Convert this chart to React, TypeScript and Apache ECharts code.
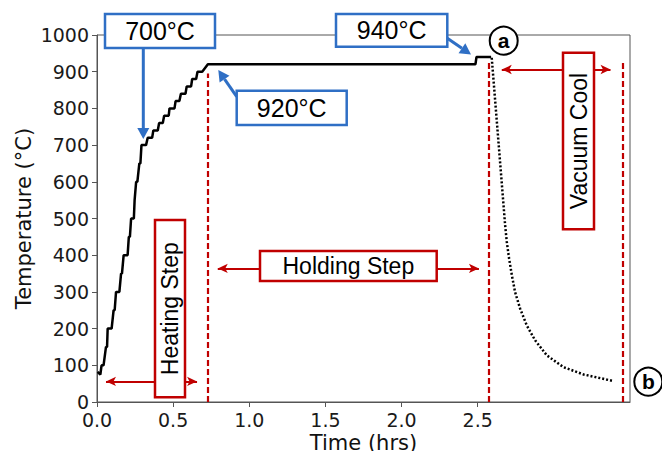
import React, { useEffect, useRef } from 'react';
import * as echarts from 'echarts';

// Heating + holding profile (hrs, °C)
const heatTime = [0.004, 0.022, 0.030, 0.043, 0.059, 0.066, 0.070, 0.096, 0.109, 0.116, 0.125, 0.147, 0.158, 0.164, 0.175, 0.201, 0.209, 0.216, 0.224, 0.242, 0.247, 0.251, 0.257, 0.265, 0.278, 0.285, 0.292, 0.322, 0.333, 0.362, 0.370, 0.399, 0.408, 0.432, 0.441, 0.471, 0.476, 0.509, 0.516, 0.541, 0.551, 0.581, 0.589, 0.618, 0.625, 0.651, 0.660, 0.691, 0.728, 2.485, 2.492, 2.588];
const heatTemp = [82, 75, 100, 100, 150, 150, 200, 200, 250, 250, 300, 300, 350, 350, 400, 400, 450, 450, 500, 500, 550, 550, 600, 600, 650, 650, 700, 700, 720, 720, 740, 740, 760, 760, 780, 780, 800, 800, 820, 820, 840, 840, 860, 860, 880, 880, 900, 900, 920, 920, 940, 940];

// Vacuum cooling (dotted)
const coolTime = [2.592, 2.680, 2.691, 2.706, 2.724, 2.745, 2.778, 2.822, 2.877, 2.954, 3.063, 3.195, 3.392];
const coolTemp = [938, 482, 436, 391, 346, 300, 255, 209, 168, 127, 95, 75, 57];

// Stage boundaries (dashed red lines): time, top temperature
const stageLineTime = [0.725, 2.575, 3.451];
const stageLineTop = [895, 930, 930];

// Stage arrows: from, to, temperature
const arrowFrom = [0.059, 0.793, 2.658];
const arrowTo = [0.657, 2.508, 3.372];
const arrowTemp = [56, 364, 906];

const xTicks = [0, 0.5, 1.0, 1.5, 2.0, 2.5];

const RED = '#c00000';
const BLUE = '#2f6fc5';
const BOXFONT = 'Liberation Sans, Arial, sans-serif';

function blueArrow(x0: number, y0: number, x1: number, y1: number) {
  const dx = x1 - x0, dy = y1 - y0;
  const len = Math.sqrt(dx * dx + dy * dy);
  const ux = dx / len, uy = dy / len;
  const nx = -uy, ny = ux;
  const L = 11, W = 6;
  const bx = x1 - L * ux, by = y1 - L * uy;
  return [
    { type: 'line', z: 100, shape: { x1: x0, y1: y0, x2: bx, y2: by }, style: { stroke: BLUE, lineWidth: 3 } },
    { type: 'polygon', z: 100, shape: { points: [[x1, y1], [bx + W * nx, by + W * ny], [bx - W * nx, by - W * ny]] }, style: { fill: BLUE } },
  ];
}

function box(x: number, y: number, w: number, h: number, color: string, text: string, size: number, rotate: boolean) {
  return [
    { type: 'rect', z: 100, shape: { x, y, width: w, height: h }, style: { fill: '#fff', stroke: color, lineWidth: 2.5 } },
    {
      type: 'text', z: 101, x: x + w / 2, y: y + h / 2, rotation: rotate ? Math.PI / 2 : 0,
      style: { text, x: 0, y: 0, fill: '#000', font: `${size}px ${BOXFONT}`, align: 'center', verticalAlign: 'middle', textAlign: 'center', textVerticalAlign: 'middle' },
    },
  ];
}

function circleLabel(cx: number, cy: number, t: string) {
  return [
    { type: 'circle', z: 100, shape: { cx, cy, r: 14 }, style: { fill: '#fff', stroke: '#000', lineWidth: 2 } },
    { type: 'text', z: 101, x: cx, y: cy, style: { text: t, x: 0, y: 0, fill: '#000', font: `bold 21px ${BOXFONT}`, align: 'center', verticalAlign: 'middle', textAlign: 'center', textVerticalAlign: 'middle' } },
  ];
}

export default function App() {
  const ref = useRef<HTMLDivElement>(null);
  useEffect(() => {
    if (!ref.current) return;
    const chart = echarts.init(ref.current, null, { renderer: 'svg' });
    const heatData = heatTime.map((t, i) => [t, heatTemp[i]]);
    const coolData = coolTime.map((t, i) => [t, coolTemp[i]]);
    const dashed = stageLineTime.map((t, i) => [
      { coord: [t, 0] },
      { coord: [t, stageLineTop[i]] },
    ]);
    const arrows = arrowFrom.map((f, i) => [
      { coord: [f, arrowTemp[i]] },
      { coord: [arrowTo[i], arrowTemp[i]] },
    ]);
    const axisColor = '#555';
    const tickFont = { fontFamily: 'DejaVu Sans', fontSize: 19, color: '#1a1a1a' };
    const option: any = {
      animation: false,
      grid: {
        left: 97, right: 32, top: 35, bottom: 49, containLabel: false, outerBoundsMode: 'none',
        show: true, borderColor: axisColor, borderWidth: 1, backgroundColor: 'transparent',
      },
      xAxis: {
        type: 'value', min: 0, max: 3.5, interval: 0.5,
        name: 'Time (hrs)', nameLocation: 'middle', nameGap: 30, nameMoveOverlap: false,
        nameTextStyle: { fontFamily: 'DejaVu Sans', fontSize: 21, color: '#111' },
        axisLine: { show: true, lineStyle: { color: axisColor, width: 1 } },
        axisTick: { show: true, length: 5, lineStyle: { color: axisColor }, customValues: xTicks },
        axisLabel: { ...tickFont, margin: 8, lineHeight: 19, customValues: xTicks, formatter: (v: number) => v.toFixed(1) },
        splitLine: { show: false },
      },
      yAxis: {
        type: 'value', min: 0, max: 1000, interval: 100,
        name: 'Temperature (°C)', nameLocation: 'middle', nameGap: 63, nameMoveOverlap: false,
        nameTextStyle: { fontFamily: 'DejaVu Sans', fontSize: 21, color: '#111' },
        axisLine: { show: true, lineStyle: { color: axisColor, width: 1 } },
        axisTick: { show: true, length: 5, lineStyle: { color: axisColor } },
        axisLabel: { ...tickFont, margin: 8, formatter: (v: number) => String(v) },
        splitLine: { show: false },
      },
      series: [
        {
          type: 'line', data: heatData, showSymbol: false, symbol: 'none',
          lineStyle: { color: '#000', width: 2.5 }, z: 3,
          markLine: {
            silent: true, symbol: ['none', 'none'], label: { show: false },
            lineStyle: { color: RED, width: 2.2, type: [6, 3] },
            data: dashed,
          },
        },
        {
          type: 'line', data: coolData, showSymbol: false, symbol: 'none',
          lineStyle: { color: '#000', width: 2.5, type: [2, 2] }, z: 3,
          markLine: {
            silent: true, symbol: ['arrow', 'arrow'], symbolSize: [7, 10], label: { show: false },
            lineStyle: { color: RED, width: 2, type: 'solid' },
            itemStyle: { color: RED },
            data: arrows,
          },
        },
      ],
      graphic: [
        ...blueArrow(143.3, 48, 143.3, 139),
        ...blueArrow(236.7, 96.7, 218.3, 70),
        ...blueArrow(447.3, 38.3, 471, 54.5),
        ...box(105, 14, 110, 34, BLUE, '700°C', 25, false),
        ...box(236.7, 90.7, 110, 34.3, BLUE, '920°C', 25, false),
        ...box(336, 14, 111.3, 32.7, BLUE, '940°C', 25, false),
        ...box(155, 220, 30, 177.3, RED, 'Heating Step', 23, true),
        ...box(260, 251, 176.7, 30, RED, 'Holding Step', 23, false),
        ...box(563, 52.7, 31, 176.6, RED, 'Vacuum Cool', 23, true),
        ...circleLabel(503.7, 40.7, 'a'),
        ...circleLabel(648.3, 381.7, 'b'),
      ],
    };
    chart.setOption(option);
    return () => chart.dispose();
  }, []);
  return <div ref={ref} style={{ position: 'fixed', left: 0, top: 0, width: 662, height: 451, background: '#fff' }} />;
}
